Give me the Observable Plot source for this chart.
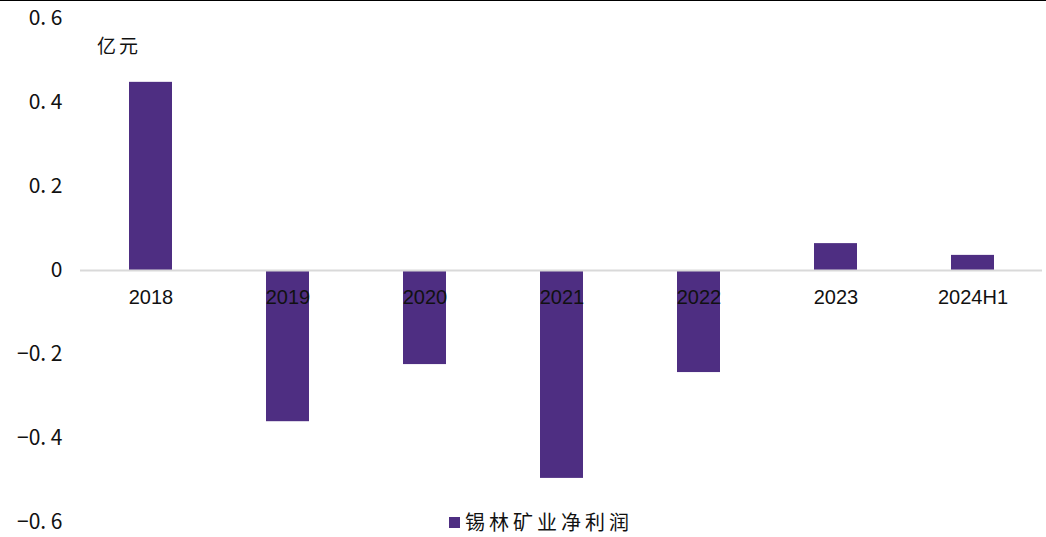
<!DOCTYPE html>
<html><head><meta charset="utf-8">
<script src="https://cdn.jsdelivr.net/npm/d3@7"></script>
<script src="https://cdn.jsdelivr.net/npm/@observablehq/plot@0.6"></script>
<style>
html,body{margin:0;padding:0;background:#fff;}
#wrap{position:relative;width:1046px;height:537px;overflow:hidden;}
#topline{position:absolute;left:0;top:0;width:1046px;height:0;border-top:1.5px solid #000;}
#unit{position:absolute;left:97px;top:31px;line-height:22px;font:19px "Noto Sans CJK SC",sans-serif;color:#111;letter-spacing:3px;}
#legend{position:absolute;left:449px;top:511px;height:22px;font:20px/22px "Noto Sans CJK SC",sans-serif;color:#111;display:flex;align-items:center;letter-spacing:4px;white-space:nowrap;}
#legend .sw{width:11px;height:11px;background:#4e2e82;margin-right:5px;}
#legend #legtext{line-height:22px;display:block;height:22px;}
</style></head>
<body><div id="wrap"><div id="chart"></div><div id="topline"></div><div id="unit">亿元</div><div id="legend"><span class="sw"></span><span id="legtext"></span></div></div>
<script>
const categories = ["2018","2019","2020","2021","2022","2023","2024H1"];
const values = [0.448, -0.36, -0.224, -0.495, -0.243, 0.064, 0.036];
const yTicks = [-0.6, -0.4, -0.2, 0, 0.2, 0.4, 0.6];
const seriesName = "锡林矿业净利润";
document.getElementById("legtext").textContent = seriesName;
const data = categories.map((c, i) => ({cat: c, v: values[i]}));
const color = "#4e2e82";
const fmt = d => d === 0 ? "0" : d3.format(".1f")(d).replace("-", "−").replace(".", ". ");
const chart = Plot.plot({
  width: 1046, height: 537,
  marginTop: 18, marginBottom: 15, marginLeft: 80, marginRight: 4,
  style: {background: "transparent", color: "#111"},
  x: {domain: categories, padding: 0, axis: null},
  y: {domain: [-0.6, 0.6], ticks: yTicks, label: null},
  marks: [
    Plot.axisY({ticks: yTicks, label: null, tickSize: 0, tickPadding: 18, fontSize: 21, fontFamily: "Noto Sans CJK SC, sans-serif", tickFormat: fmt}),
    Plot.barY(data, {x: "cat", y: "v", fill: color, insetLeft: 47, insetRight: 47}),
    Plot.ruleY([0], {stroke: "#d9d9d9", strokeWidth: 2}),
    Plot.text(data, {x: "cat", y: () => 0, text: "cat", dy: 27, fontSize: 20, fontFamily: "Liberation Sans, Arial, sans-serif", fill: "#111"})
  ]
});
document.getElementById("chart").appendChild(chart);
</script></body></html>
